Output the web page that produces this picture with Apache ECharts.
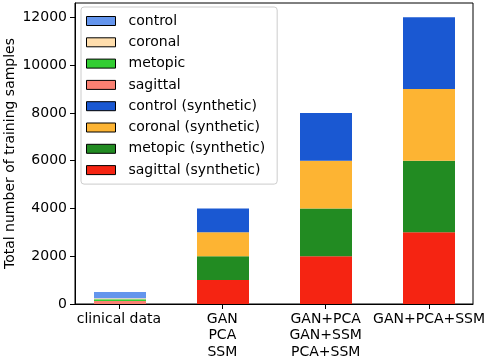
<!DOCTYPE html>
<html>
<head>
<meta charset="utf-8">
<script src="https://cdn.jsdelivr.net/npm/echarts@6/dist/echarts.min.js"></script>
<style>
  html, body { margin: 0; padding: 0; background: #fff; }
  #chart { width: 487px; height: 358px; }
</style>
</head>
<body>
<div id="chart"></div>
<script>
const categories = ["clinical data", "GAN\nPCA\nSSM", "GAN+PCA\nGAN+SSM\nPCA+SSM", "GAN+PCA+SSM"];
const positions = [0, 1, 2, 3];

// real patients only appear in the first group
const sagittal = [130, 0, 0, 0];
const metopic = [70, 0, 0, 0];
const coronal = [40, 0, 0, 0];
const control = [260, 0, 0, 0];

const sagittalSyn = [0, 1000, 2000, 3000];
const metopicSyn = [0, 1000, 2000, 3000];
const coronalSyn = [0, 1000, 2000, 3000];
const controlSyn = [0, 1000, 2000, 3000];

const yTicks = [0, 2000, 4000, 6000, 8000, 10000, 12000];
const yMax = 12600;

// bottom -> top stacking order
const stackSeries = [
  { name: "sagittal", data: sagittal, color: "#fa8072" },
  { name: "metopic", data: metopic, color: "#32cd32" },
  { name: "coronal", data: coronal, color: "#ffdead" },
  { name: "control", data: control, color: "#6495ed" },
  { name: "sagittal (synthetic)", data: sagittalSyn, color: "#f52412" },
  { name: "metopic (synthetic)", data: metopicSyn, color: "#228b22" },
  { name: "coronal (synthetic)", data: coronalSyn, color: "#fdb433" },
  { name: "control (synthetic)", data: controlSyn, color: "#1a58d2" },
];
const legendOrder = [
  "control", "coronal", "metopic", "sagittal",
  "control (synthetic)", "coronal (synthetic)", "metopic (synthetic)", "sagittal (synthetic)",
];

const font = "DejaVu Sans";
const black = "#000";
const chart = echarts.init(document.getElementById("chart"));

// grid 0: the visible frame, ticks and labels (x spans -0.425..3.425 like matplotlib's margins)
// grid 1: the bars on a hidden category axis, bands 103px wide centred on the same x positions
chart.setOption({
  animation: false,
  textStyle: { fontFamily: font, color: black },
  grid: [
    { left: 75, right: 14, top: 3, bottom: 54, outerBoundsMode: "none", show: true, borderColor: black, borderWidth: 1 },
    { left: 68.5, right: 6.5, top: 3, bottom: 54, outerBoundsMode: "none" },
  ],
  legend: {
    orient: "vertical",
    left: 81, top: 7,
    data: legendOrder,
    icon: "rect",
    itemWidth: 29, itemHeight: 9, itemGap: 5.3,
    padding: [6, 12, 6, 5],
    borderColor: "#cccccc", borderWidth: 1, borderRadius: 3,
    backgroundColor: "rgba(255,255,255,0.8)",
    itemStyle: { borderColor: black, borderWidth: 1 },
    textStyle: { fontFamily: font, fontSize: 14, color: black, lineHeight: 16, padding: [0, 0, 0, 8] },
  },
  xAxis: [
    {
      gridIndex: 0,
      type: "value",
      min: -0.425, max: 3.425,
      splitLine: { show: false },
      axisLine: { show: true, onZero: false, lineStyle: { color: black, width: 1 } },
      axisTick: { show: true, length: 5, customValues: positions, lineStyle: { color: black } },
      axisLabel: {
        customValues: positions,
        formatter: (v) => categories[Math.round(v)],
        fontFamily: font, fontSize: 14, color: black, lineHeight: 16.5, margin: 7,
      },
    },
    {
      gridIndex: 1,
      type: "category",
      data: categories,
      show: false,
    },
  ],
  yAxis: [
    {
      gridIndex: 0,
      type: "value",
      min: 0, max: yMax,
      name: "Total number of training samples",
      nameLocation: "middle",
      nameGap: 58,
      nameMoveOverlap: false,
      nameTextStyle: { fontFamily: font, fontSize: 14, color: black },
      splitLine: { show: false },
      axisLine: { show: true, onZero: false, lineStyle: { color: black, width: 1 } },
      axisTick: { show: true, length: 5, customValues: yTicks, lineStyle: { color: black } },
      axisLabel: {
        customValues: yTicks,
        formatter: (v) => String(v),
        fontFamily: font, fontSize: 14, color: black, margin: 8,
      },
    },
    {
      gridIndex: 1,
      type: "value",
      min: 0, max: yMax,
      show: false,
      splitLine: { show: false },
    },
  ],
  series: stackSeries.map((s) => ({
    name: s.name,
    type: "bar",
    xAxisIndex: 1,
    yAxisIndex: 1,
    stack: "total",
    barWidth: 52,
    itemStyle: { color: s.color },
    data: s.data,
  })),
});
</script>
</body>
</html>
